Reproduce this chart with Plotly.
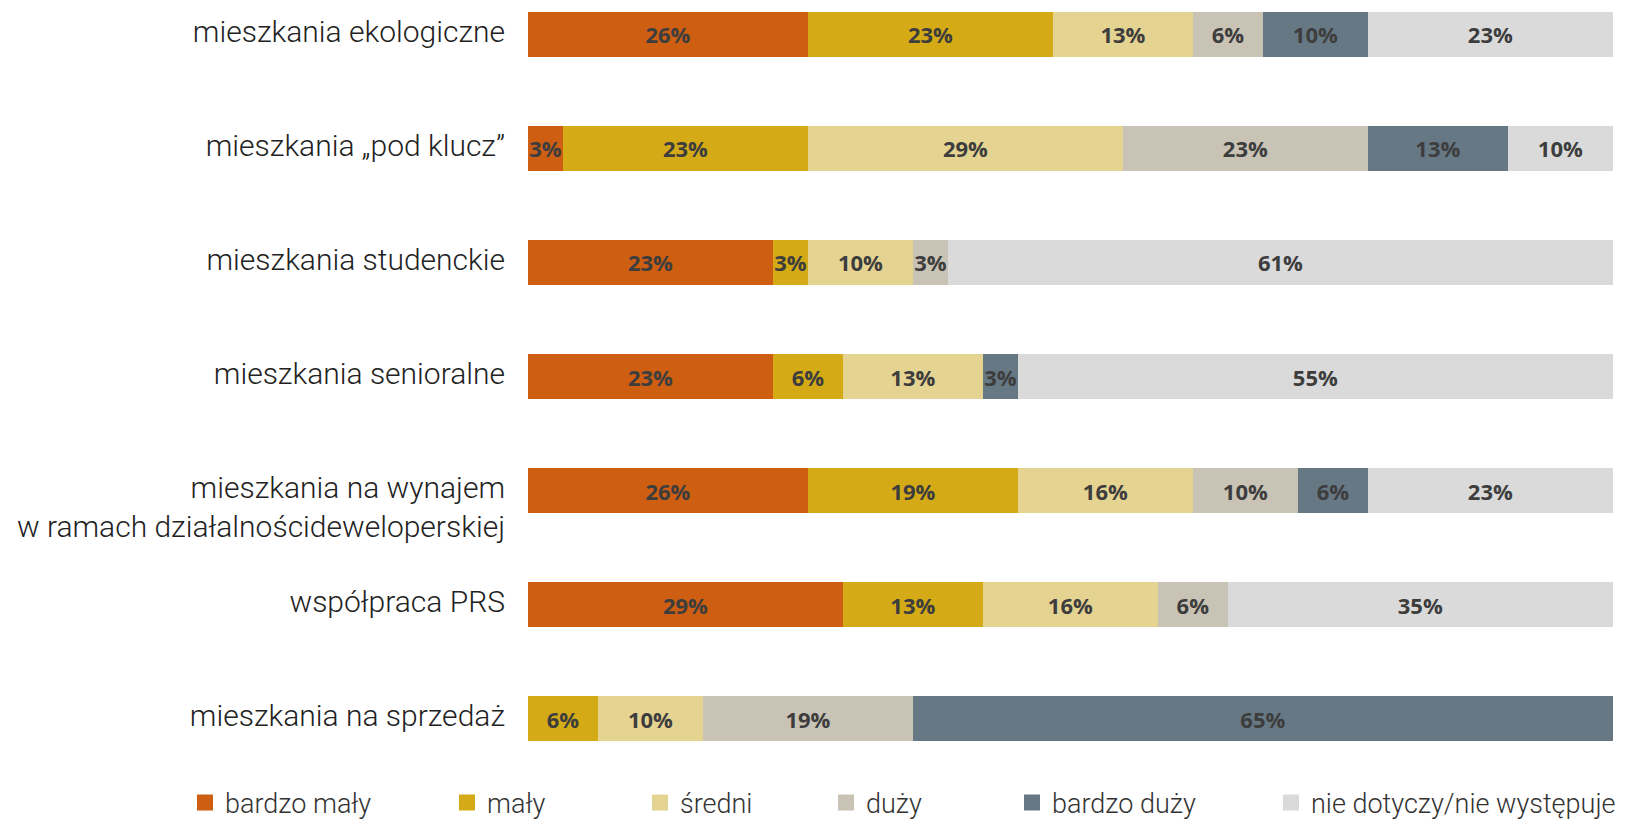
import plotly.graph_objects as go

categories = [
    "mieszkania ekologiczne",
    "mieszkania „pod klucz”",
    "mieszkania studenckie",
    "mieszkania senioralne",
    "mieszkania na wynajem<br>w ramach działalnoścideweloperskiej",
    "współpraca PRS",
    "mieszkania na sprzedaż",
]
series_names = ["bardzo mały", "mały", "średni", "duży", "bardzo duży", "nie dotyczy/nie występuje"]

bardzo_maly = [25.81, 3.23, 22.58, 22.58, 25.81, 29.03, None]
maly = [22.58, 22.58, 3.23, 6.45, 19.35, 12.90, 6.45]
sredni = [12.90, 29.03, 9.68, 12.90, 16.13, 16.13, 9.68]
duzy = [6.45, 22.58, 3.23, None, 9.68, 6.45, 19.35]
bardzo_duzy = [9.68, 12.90, None, 3.23, 6.45, None, 64.52]
nie_dotyczy = [22.58, 9.68, 61.29, 54.84, 22.58, 35.48, None]

colors = ["#CD5E12", "#D4AB16", "#E5D392", "#C9C3B5", "#677885", "#DADADA"]
legend_x_px = [185, 447, 640, 826, 1012, 1271]

all_series = [bardzo_maly, maly, sredni, duzy, bardzo_duzy, nie_dotyczy]

# tick labels: extra leading blank line for multi-line label so first line aligns with bar
ticktext = [(" <br>" + c) if "<br>" in c else c for c in categories]

fig = go.Figure()
for i, (name, vals, col) in enumerate(zip(series_names, all_series, colors)):
    fig.add_trace(go.Bar(
        y=categories, x=vals, orientation="h", name=name,
        marker=dict(color=col, line=dict(width=0)),
        texttemplate="%{x:.0f}%", textposition="inside",
        insidetextanchor="middle", textangle=0,
        insidetextfont=dict(family="Open Sans", size=22, color="#3d3d3d", weight=700),
        hoverinfo="skip", showlegend=False,
    ))
    lg = "legend" if i == 0 else f"legend{i+1}"
    fig.add_trace(go.Scatter(
        x=[None], y=[None], mode="markers", name=name,
        marker=dict(symbol="square", size=18, color=col),
        legend=lg, showlegend=True,
    ))

legend_common = dict(
    xref="container", yref="container", xanchor="left", yanchor="middle",
    y=1 - 803 / 831, orientation="h", bgcolor="rgba(0,0,0,0)",
    font=dict(family="Roboto", size=27, color="#333333", weight=300),
    itemsizing="trace",
)
layout_legends = {}
for i, xp in enumerate(legend_x_px):
    key = "legend" if i == 0 else f"legend{i+1}"
    layout_legends[key] = dict(x=xp / 1627, **legend_common)

fig.update_layout(
    barmode="stack",
    bargap=0.605,
    width=1627, height=831,
    margin=dict(l=528, r=14, t=0, b=71),
    paper_bgcolor="white", plot_bgcolor="white",
    uniformtext=dict(minsize=22, mode="show"),
    xaxis=dict(range=[0, 100.01], visible=False, showgrid=False, zeroline=False),
    yaxis=dict(
        type="category", categoryarray=categories,
        tickmode="array", tickvals=categories, ticktext=ticktext,
        range=[6.364, -0.3026], showgrid=False, zeroline=False, showline=False,
        ticks="", ticklabelstandoff=22, ticklabelshift=3,
        tickfont=dict(family="Roboto", size=30, color="#222222", weight=300),
    ),
    **layout_legends,
)

fig.write_html("out.html")
